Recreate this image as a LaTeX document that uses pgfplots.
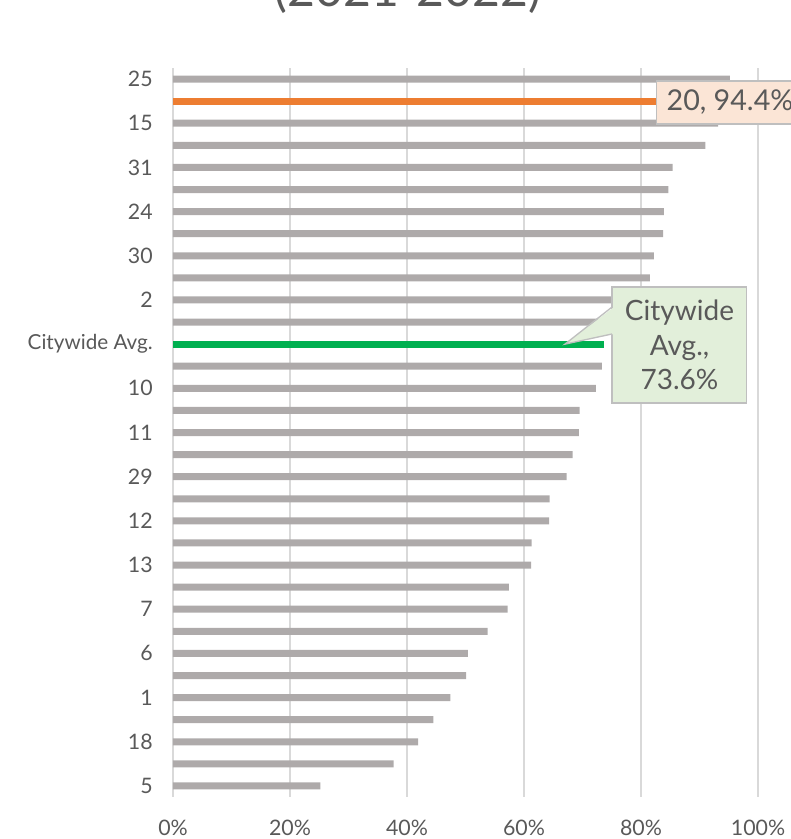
\documentclass[border=0pt]{standalone}
\usepackage{pgfplots}
\pgfplotsset{compat=1.18}
\usepackage{fontspec}
\setmainfont{Lato}
\definecolor{bargray}{HTML}{AEAAAA}
\definecolor{barorange}{HTML}{ED7D31}
\definecolor{bargreen}{HTML}{00B050}
\definecolor{txt}{HTML}{595959}
\definecolor{gridc}{HTML}{D9D9D9}
\definecolor{boxline}{HTML}{BFBFBF}
\definecolor{orangefill}{HTML}{FBE5D6}
\definecolor{greenfill}{HTML}{E2EFDA}

\pgfplotstableread{
row val
0 95.2
2 93.2
3 91.0
4 85.4
5 84.7
6 83.9
7 83.8
8 82.2
9 81.5
10 79.0
11 76.0
13 73.3
14 72.3
15 69.5
16 69.4
17 68.3
18 67.3
19 64.4
20 64.3
21 61.3
22 61.2
23 57.4
24 57.2
25 53.8
26 50.4
27 50.1
28 47.4
29 44.5
30 41.9
31 37.7
32 25.2
}\districts

\begin{document}
\begin{tikzpicture}
\begin{axis}[
  at={(0,0)}, anchor=south west,
  width=438.75pt, height=546.75pt, scale only axis, clip=false,
  xbar, bar width=5.25pt,
  xmin=0, xmax=100, ymin=-0.5, ymax=32.5, y dir=reverse,
  xtick={0,20,...,100},
  xticklabel={\pgfmathprintnumber{\tick}\%},
  ytick={0,2,...,32},
  yticklabels={25,15,31,24,30,2,{\fontsize{15.5}{17}\selectfont Citywide Avg.},10,11,29,12,13,7,6,1,18,5},
  /pgf/number format/assume math mode=true,
  tick style={draw=none}, major tick length=0pt,
  axis line style={draw=none},
  xmajorgrids, grid style={gridc, line width=1.5pt},
  ticklabel style={font=\fontsize{16}{18}\selectfont, text=txt},
  xticklabel style={inner sep=0pt, anchor=north, yshift=-17pt},
  yticklabel style={inner sep=0pt, anchor=east, xshift=-15pt},
]
\addplot[fill=bargray, draw=none, bar shift=0pt] table[x=val, y=row] {\districts};
\addplot[fill=barorange, draw=none, bar shift=0pt] coordinates {(94.4,1)};
\addplot[fill=bargreen, draw=none, bar shift=0pt] coordinates {(73.6,12)};

\node[draw=boxline, line width=1pt, fill=orangefill, anchor=west, minimum height=32.25pt,
  inner xsep=7.5pt, text=txt, font=\fontsize{21.5}{26}\selectfont]
  at (axis cs:82.56,1.06) {20, 94.4\%\hspace*{12pt}};

\node[draw=boxline, line width=1pt, fill=greenfill, minimum width=101pt, minimum height=87pt,
  align=center, text=txt, font=\fontsize{21}{26}\selectfont]
  at (axis cs:86.58,12.04) {Citywide\\Avg.,\\73.6\%};
\fill[greenfill] (axis cs:67.0,12.0) -- (axis cs:75.4,10.32) -- (axis cs:75.4,11.54) -- cycle;
\draw[boxline, line width=1pt] (axis cs:75.05,10.32) -- (axis cs:67.0,12.0) -- (axis cs:75.05,11.54);
\end{axis}
\node[anchor=base, text=txt, font=\fontsize{36}{42}\selectfont] at (176.25pt,592.5pt) {(2021-2022)};
\pgfresetboundingbox
\useasboundingbox (-129.75pt,-31.5pt) rectangle (462.75pt,597.75pt);
\end{tikzpicture}
\end{document}
